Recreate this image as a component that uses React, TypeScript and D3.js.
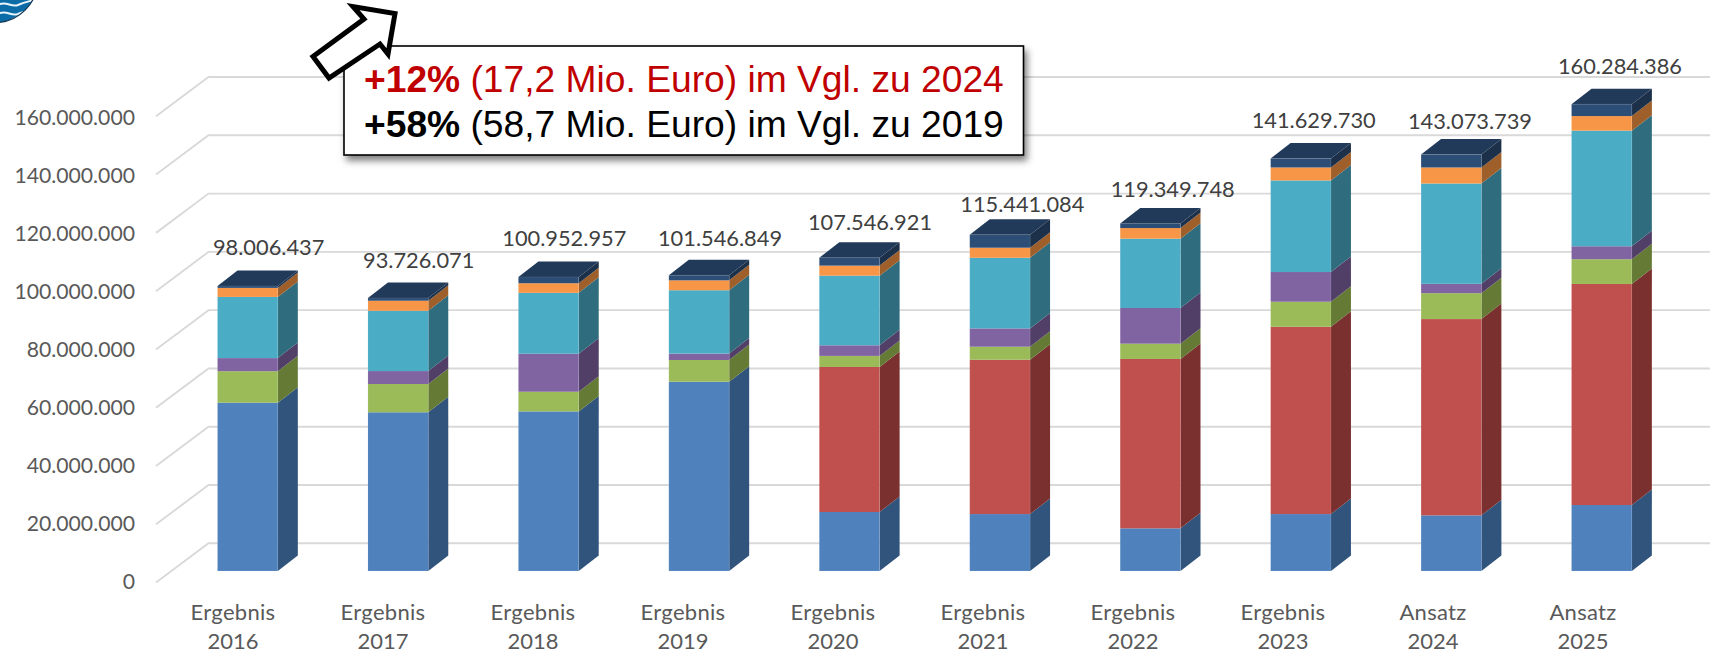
import React from "react";
import * as d3 from "d3";

// ---------- data (in Mio. Euro for the segments) ----------
const categoryKinds = ["Ergebnis","Ergebnis","Ergebnis","Ergebnis","Ergebnis","Ergebnis","Ergebnis","Ergebnis","Ansatz","Ansatz"];
const categoryYears = ["2016","2017","2018","2019","2020","2021","2022","2023","2024","2025"];
const totals = [98006437,93726071,100952957,101546849,107546921,115441084,119349748,141629730,143073739,160284386];
const seriesBlue   = [57.8,54.5,54.8,65.0,20.25,19.55,14.65,19.55,19.1,22.65];
const seriesRed    = [0,0,0,0,49.8,53.0,58.15,64.3,67.4,75.9];
const seriesGreen  = [10.8,9.7,6.75,7.45,3.8,4.45,5.25,8.6,8.9,8.5];
const seriesPurple = [4.5,4.45,13.05,2.2,3.65,6.3,12.25,10.2,3.2,4.45];
const seriesTeal   = [21.0,20.7,20.9,21.75,23.9,24.25,23.8,31.45,34.45,39.7];
const seriesOrange = [3.1,3.45,3.3,3.4,3.45,3.45,3.65,4.45,5.5,5.0];
const seriesNavy   = [0.65,0.93,2.15,1.75,2.7,4.45,1.6,3.08,4.45,4.08];
const yTicks = [0,20,40,60,80,100,120,140,160];

// ---------- styling / layout ----------
const seriesKeys = ["blue","red","green","purple","teal","orange","navy"];
const frontColors: Record<string,string> = {blue:"#4f81bd",red:"#c0504d",green:"#9bbb59",purple:"#8064a2",teal:"#4bacc6",orange:"#f79646",navy:"#2c4d75"};
const sideColors: Record<string,string> = {blue:"#31547c",red:"#7a302e",green:"#657a35",purple:"#513f68",teal:"#2f6d7e",orange:"#9e5f2b",navy:"#1c3049"};
const topColor = "#213a5a";
const labelShiftX = [21,20.6,15.75,21,20.55,22.4,22.35,12.9,18.75,18.3];
const labelShiftY = [-30.6,-29.7,-31,-29.2,-27.8,-22.5,-26.4,-30.5,-25.3,-30.2];
const W = 1715, H = 655;
const depthX = 20, depthY = 15.5;
const fontChart = "Lato, 'Open Sans', sans-serif";
const fontBox = "'Liberation Sans', Arial, sans-serif";

const rows = categoryYears.map((year,i)=>({
  year,
  blue:seriesBlue[i],red:seriesRed[i],green:seriesGreen[i],purple:seriesPurple[i],
  teal:seriesTeal[i],orange:seriesOrange[i],navy:seriesNavy[i],
}));

export default function App(){
  const x = d3.scaleBand<string>().domain(categoryYears).range([217.5,1631.85]).paddingInner(0.599).paddingOuter(0);
  const catX = d3.scalePoint<string>().domain(categoryYears).range([233,1583]);
  const yFront = d3.scaleLinear().domain([0,160]).range([571,105]);
  const yBack = d3.scaleLinear().domain([0,160]).range([543.3,77]);
  const yTickLabel = d3.scaleLinear().domain([0,160]).range([589.3,125.3]);
  const stack = d3.stack<any>().keys(seriesKeys)(rows);
  const poly = d3.line<[number,number]>().curve(d3.curveLinearClosed);
  const fmt = d3.formatLocale({decimal:",",thousands:".",grouping:[3],currency:["","€"]}).format(",d");
  const bw = x.bandwidth();

  const wave = (y:number)=>{
    const p = d3.path();
    p.moveTo(-2,y);
    p.bezierCurveTo(6,y-5,11,y+3,18,y);
    p.bezierCurveTo(22,y-2,26,y-3,34,y-5);
    return p.toString();
  };

  return (
    <svg width={W} height={H} viewBox={`0 0 ${W} ${H}`} style={{position:"absolute",left:0,top:0,background:"#fff"}}>
      <defs>
        <filter id="boxShadow" x="-5%" y="-10%" width="112%" height="130%">
          <feDropShadow dx="3" dy="5" stdDeviation="3.5" floodColor="#000" floodOpacity="0.5"/>
        </filter>
        <clipPath id="logoClip"><circle cx={-5} cy={-20} r={42.6}/></clipPath>
      </defs>

      {/* logo fragment */}
      <g clipPath="url(#logoClip)">
        <circle cx={-5} cy={-20} r={42.6} fill="#0b6ca8"/>
        <path d={wave(5)} fill="none" stroke="#e8f4fa" strokeWidth={2}/>
        <path d={wave(14)} fill="none" stroke="#e8f4fa" strokeWidth={2}/>
      </g>
      <circle cx={-5} cy={-20} r={42.6} fill="none" stroke="#163a55" strokeWidth={1.3}/>

      {/* gridlines */}
      <g fill="none" stroke="#d9d9d9" strokeWidth={1.9}>
        {yTicks.map(t=>{
          const yb = yBack(t);
          return <path key={t} d={d3.line()([[156,yb+39.3],[208.5,yb],[1710,yb]]) as string}/>;
        })}
      </g>

      {/* y labels */}
      <g fontFamily={fontChart} fontSize={21.2} fill="#595959" textAnchor="end">
        {yTicks.map(t=><text key={t} x={135} y={yTickLabel(t)}>{fmt(t*1e6)}</text>)}
      </g>

      {/* bars */}
      {rows.map((r,i)=>{
        const x0 = x(r.year)!;
        const x1 = x0+bw;
        const topV = stack[stack.length-1][i][1];
        const yt = yFront(topV);
        return (
          <g key={r.year}>
            {stack.map(layer=>{
              const [a,b] = layer[i];
              if(b-a<=0) return null;
              const yA = yFront(a), yB = yFront(b);
              return (
                <g key={layer.key}>
                  <path d={poly([[x1,yA],[x1+depthX,yA-depthY],[x1+depthX,yB-depthY],[x1,yB]]) as string} fill={sideColors[layer.key]}/>
                  <rect x={x0} y={yB} width={bw} height={yA-yB} fill={frontColors[layer.key]}/>
                </g>
              );
            })}
            <path d={poly([[x0,yt],[x1,yt],[x1+depthX,yt-depthY],[x0+depthX,yt-depthY]]) as string} fill={topColor}/>
            <rect x={x0} y={yt} width={bw} height={yFront(0)-yt} fill="none" stroke="#ffffff" strokeOpacity={0.12} strokeWidth={0.8}/>
          </g>
        );
      })}

      {/* value labels */}
      <g fontFamily={fontChart} fontSize={21.8} fill="#404040" textAnchor="middle">
        {rows.map((r,i)=>(
          <text key={r.year} x={x(r.year)!+bw/2+labelShiftX[i]} y={yFront(totals[i]/1e6)+labelShiftY[i]}>{fmt(totals[i])}</text>
        ))}
      </g>

      {/* category labels */}
      <g fontFamily={fontChart} fontSize={22} fill="#595959" textAnchor="middle">
        {categoryYears.map((year,i)=>(
          <text key={year} x={catX(year)}>
            <tspan x={catX(year)} y={620} letterSpacing={0.3}>{categoryKinds[i]}</tspan>
            <tspan x={catX(year)} y={649.3}>{year}</tspan>
          </text>
        ))}
      </g>

      {/* annotation box */}
      <rect x={344} y={46} width={679.5} height={109} fill="#fff" stroke="#000" strokeWidth={1.6} filter="url(#boxShadow)"/>
      <text x={364} y={92} fontFamily={fontBox} fontSize={37.2} fill="#c00000">
        <tspan fontWeight="bold">+12%</tspan><tspan> (17,2 Mio. Euro) im Vgl. zu 2024</tspan>
      </text>
      <text x={364} y={137} fontFamily={fontBox} fontSize={37.2} fill="#000">
        <tspan fontWeight="bold">+58%</tspan><tspan> (58,7 Mio. Euro) im Vgl. zu 2019</tspan>
      </text>

      {/* arrow */}
      <path d={poly([[313,56.5],[329,78],[380,44],[388,54],[395,13.5],[353,6.5],[364,19]]) as string}
        fill="#fff" stroke="#000" strokeWidth={5} strokeLinejoin="miter"/>
    </svg>
  );
}
